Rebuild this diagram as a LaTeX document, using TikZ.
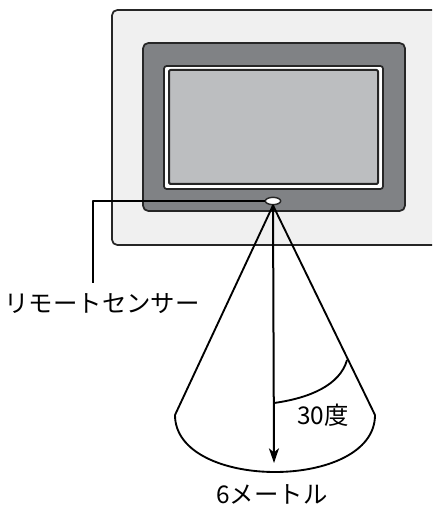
\documentclass[tikz,border=0pt]{standalone}
\usepackage{fontspec}
\setmainfont{Noto Sans CJK JP}
\usetikzlibrary{shapes.geometric,arrows.meta}
\definecolor{framegray}{RGB}{240,240,240}
\definecolor{bezelgray}{RGB}{128,130,133}
\definecolor{screengray}{RGB}{188,190,192}

\begin{document}
\begin{tikzpicture}[x=0.75pt, y=-0.75pt, line join=round,
  every node/.style={black, font=\fontsize{18.3}{21}\selectfont},
  frameline/.style={draw=black!85, line width=1.3pt, rounded corners=4pt}]
\useasboundingbox (0,0) rectangle (432,505);
\clip (0,0) rectangle (432,505);

% photo frame
\draw[frameline, fill=framegray] (112,10) rectangle (445,245);
\draw[frameline, fill=bezelgray] (143,43) rectangle (405,211);
\draw[frameline, fill=white, rounded corners=2pt] (164,66) rectangle (383,189);
\draw[line width=1.5pt, draw=black!85, fill=screengray, rounded corners=1pt] (169,70) rectangle (378,184);

\node[ellipse, draw=black!85, fill=white, line width=1.1pt, inner sep=0pt,
  minimum width=11.5pt, minimum height=5.5pt] (sensor) at (273,201) {};

% label
\node (lbl) at (102,304) {リモートセンサー};
\coordinate (bend) at (93,201);
\draw[line width=1.4pt] (sensor.west) -- (bend) -- (93,283);

% cone
\coordinate (L) at (175,415);
\coordinate (R) at (375,415);
\draw[line width=1.4pt] (L) -- (sensor.south) -- (R);
\draw[line width=1.4pt] (L) .. controls (175,491) and (375,491) .. (R);
\draw[line width=1.5pt, -{Stealth[length=11pt,width=7.5pt,inset=3pt]}] (sensor.south) -- (274,463);
\draw[line width=1.4pt] (274,403) .. controls (310,398) and (340,385) .. (347,360);

\node (ang) at (323,415) {30度};
\node (dist) at (272,494) {6メートル};
\end{tikzpicture}
\end{document}
